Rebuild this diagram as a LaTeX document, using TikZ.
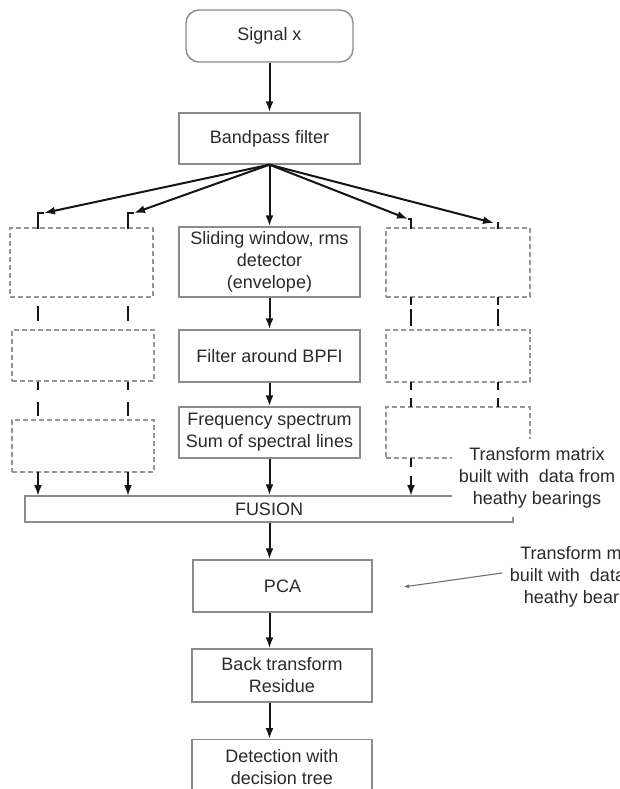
\documentclass[tikz,border=0pt]{standalone}
\usepackage{fontspec}
\setmainfont{Liberation Sans}
\usetikzlibrary{arrows.meta}
\definecolor{boxgray}{HTML}{8C8C8C}
\definecolor{dashgray}{HTML}{959595}
\definecolor{txt}{HTML}{2A2A2A}
\definecolor{arr}{HTML}{151515}
\definecolor{thin}{HTML}{707070}
\begin{document}
\begin{tikzpicture}[x=1pt,y=-1pt,
  every node/.style={font=\fontsize{18}{22}\selectfont, text=txt},
  solidbox/.style={draw=boxgray, line width=1.4pt, inner sep=0pt, align=center},
  dashbox/.style={draw=dashgray, line width=1.4pt, dash pattern=on 5pt off 3pt, inner sep=0pt},
  flow/.style={draw=arr, line width=2pt, -{Latex[length=11pt,width=8pt]}},
  link/.style={draw=arr, line width=1.8pt},
  dlink/.style={draw=arr, line width=2.3pt, dash pattern=on 15pt off 9pt},
  note/.style={align=center, inner sep=0pt},
]
\useasboundingbox (0,0) rectangle (619,789);
\clip (0,0) rectangle (619,789);

% central column
\node[solidbox, rounded corners=13pt, minimum width=167pt, minimum height=52pt] (sig) at (269.5,36) {Signal x};
\node[solidbox, minimum width=181pt, minimum height=51pt] (bp) at (269.5,138.5) {Bandpass filter};
\node[solidbox, minimum width=181pt, minimum height=70pt] (sw) at (269.5,262) {Sliding window, rms\\detector\\(envelope)};
\node[solidbox, minimum width=181pt, minimum height=52pt] (fb) at (269.5,356) {Filter around BPFI};
\node[solidbox, minimum width=181pt, minimum height=51pt] (fs) at (269.5,432.5) {Frequency spectrum\\Sum of spectral lines};
\node[solidbox, minimum width=488pt, minimum height=26pt] (fus) at (269,509) {FUSION};
\node[solidbox, minimum width=179pt, minimum height=52pt] (pca) at (282.5,586) {PCA};
\node[solidbox, minimum width=180pt, minimum height=53pt] (back) at (282,675.5) {Back transform\\Residue};
\node[solidbox, anchor=north, minimum width=180pt, minimum height=54pt] (det) at (282,739) {Detection with\\decision tree};

% dashed side boxes
\node[dashbox, minimum width=143pt, minimum height=69pt] (L1) at (81.5,262.5) {};
\node[dashbox, minimum width=142pt, minimum height=51pt] (L2) at (83,355.5) {};
\node[dashbox, minimum width=142pt, minimum height=52pt] (L3) at (83,446) {};
\node[dashbox, minimum width=144pt, minimum height=69pt] (R1) at (458,262.5) {};
\node[dashbox, minimum width=144pt, minimum height=52pt] (R2) at (458,356) {};
\node[dashbox, minimum width=144pt, minimum height=51pt] (R3) at (458,432.5) {};

% central flow
\draw[flow] (sig) -- (bp);
\draw[flow] (bp.south) -- (sw.north);
\draw[flow] (sw) -- (fb);
\draw[flow] (fb) -- (fs);
\draw[flow] (fs) -- (fs.south |- fus.north);
\coordinate (f0) at (fus.south -| fs.south);
\draw[flow] (f0) -- (f0 |- pca.north);
\draw[flow] (pca.south -| f0) -- (f0 |- back.north);
\draw[flow] (back.south -| f0) -- (f0 |- det.north);

% fan to side columns
\coordinate (tL1) at (44,213);
\coordinate (tL2) at (134,213);
\coordinate (tR1) at (408,219);
\coordinate (tR2) at (494,223);
\draw[flow] (bp.south) -- (tL1);
\draw[flow] (bp.south) -- (tL2);
\draw[flow] (bp.south) -- (tR1);
\draw[flow] (bp.south) -- (tR2);
\draw[link, line width=1.6pt] (38,228.5) |- (tL1);
\draw[link, line width=1.6pt] (128,228.5) |- (tL2);
\draw[link, line width=1.6pt] (411,228.5) |- (tR1);
\draw[link, line width=1.6pt] (498,228.5) -- (498,222);

% dashed links between side boxes
\foreach \xx in {38,128}{
  \draw[dlink, dash phase=15pt] (\xx,297) -- (\xx,330);
  \draw[dlink, dash pattern=on 8pt off 12pt on 14pt off 20pt] (\xx,382) -- (\xx,420);
  \draw[flow] (\xx,472) -- (\xx,496);
}
\foreach \xx in {411,498}{
  \draw[dlink, dash pattern=on 8pt off 4pt on 17pt off 20pt] (\xx,297) -- (\xx,330);
  \draw[dlink, dash pattern=on 8pt off 8pt on 12pt off 20pt] (\xx,382) -- (\xx,407);
}
\draw[dlink, dash pattern=on 9pt off 20pt] (411,458) -- (411,468);
\draw[flow] (411,476) -- (411,496);

% notes
\node[note, fill=white, minimum width=170pt, minimum height=78pt] (n1) at (537,478) {Transform matrix\\built with\ \ data from\\heathy bearings};
\node[note] (n2) at (588,577) {Transform matrix\\built with\ \ data from\\heathy bearings};
\coordinate (a0) at (502,573);
\coordinate (a1) at (403,587);
\draw[draw=thin, line width=1.1pt, -{Latex[length=6pt,width=4pt]}] (a0) -- (a1);
\end{tikzpicture}
\end{document}
